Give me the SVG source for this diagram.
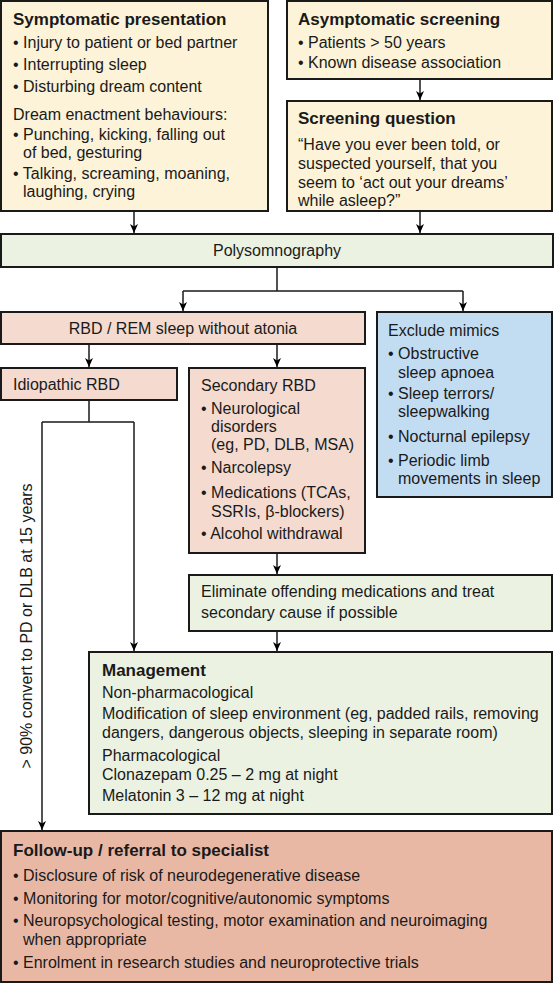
<svg xmlns="http://www.w3.org/2000/svg" width="555" height="984" viewBox="0 0 555 984">
<defs>
<marker id="ah" markerUnits="userSpaceOnUse" markerWidth="10" markerHeight="10" refX="9" refY="5" orient="auto">
<path d="M0,1 L9,5 L0,9 L2.5,5 z" fill="#000"/>
</marker>
<style>
.box{stroke:#1a1a1a;stroke-width:2}
.cream{fill:#fdf3d8}
.green{fill:#ebf2e2}
.pink{fill:#f4dacf}
.blue{fill:#c2dcf2}
.salmon{fill:#e9b8a5}
text{font-family:"Liberation Sans",Arial,sans-serif;font-size:16px;fill:#1a1a1a}
.t{font-weight:bold;font-size:17px}
.c{text-anchor:middle}
.ln{fill:none;stroke:#1a1a1a;stroke-width:1.5}
.ar{marker-end:url(#ah)}
</style>
</defs>
<rect width="555" height="984" fill="#fff"/>

<g id="connectors">
<path class="ln ar" d="M134,211 V233"/>
<path class="ln ar" d="M420,79 V100"/>
<path class="ln ar" d="M420,211 V233"/>
<path class="ln" d="M277,267 V291 M183,291 H463"/>
<path class="ln ar" d="M183,291 V311"/>
<path class="ln ar" d="M463,291 V311"/>
<path class="ln ar" d="M89,344 V367"/>
<path class="ln ar" d="M277,344 V367"/>
<path class="ln" d="M89,400 V422 M42,422 H134"/>
<path class="ln ar" d="M134,422 V651"/>
<path class="ln ar" d="M42,422 V830"/>
<path class="ln ar" d="M277,553 V574"/>
<path class="ln ar" d="M277,631 V651"/>
<text transform="translate(32,626) rotate(-90)" class="c">&gt; 90% convert to PD or DLB at 15 years</text>
</g>

<g id="symptomatic">
<rect class="box cream" x="1" y="1" width="267" height="210"/>
<text class="t" x="13" y="25">Symptomatic presentation</text>
<text x="13" y="48">• Injury to patient or bed partner</text>
<text x="13" y="70">• Interrupting sleep</text>
<text x="13" y="92">• Disturbing dream content</text>
<text x="13" y="120">Dream enactment behaviours:</text>
<text x="13" y="140">• Punching, kicking, falling out</text>
<text x="23" y="158">of bed, gesturing</text>
<text x="13" y="179">• Talking, screaming, moaning,</text>
<text x="23" y="197">laughing, crying</text>
</g>

<g id="asymptomatic">
<rect class="box cream" x="287" y="1" width="265" height="78"/>
<text class="t" x="298" y="25">Asymptomatic screening</text>
<text x="298" y="48">• Patients &gt; 50 years</text>
<text x="298" y="68">• Known disease association</text>
</g>

<g id="screening">
<rect class="box cream" x="287" y="101" width="265" height="110"/>
<text class="t" x="298" y="124">Screening question</text>
<text x="298" y="150">“Have you ever been told, or</text>
<text x="298" y="169">suspected yourself, that you</text>
<text x="298" y="188">seem to ‘act out your dreams’</text>
<text x="298" y="206">while asleep?”</text>
</g>

<g id="polysomnography">
<rect class="box green" x="1" y="234" width="552" height="33"/>
<text class="c" x="277" y="256">Polysomnography</text>
</g>

<g id="rbd">
<rect class="box pink" x="1" y="312" width="364" height="32"/>
<text class="c" x="183" y="334">RBD / REM sleep without atonia</text>
</g>

<g id="mimics">
<rect class="box blue" x="377" y="312" width="175" height="185"/>
<text x="388" y="336">Exclude mimics</text>
<text x="388" y="359">• Obstructive</text>
<text x="398" y="378">sleep apnoea</text>
<text x="388" y="399">• Sleep terrors/</text>
<text x="398" y="417">sleepwalking</text>
<text x="388" y="442">• Nocturnal epilepsy</text>
<text x="388" y="466">• Periodic limb</text>
<text x="398" y="484">movements in sleep</text>
</g>

<g id="idiopathic">
<rect class="box pink" x="1" y="368" width="176" height="32"/>
<text x="13" y="390">Idiopathic RBD</text>
</g>

<g id="secondary">
<rect class="box pink" x="189" y="368" width="176" height="185"/>
<text x="201" y="391">Secondary RBD</text>
<text x="201" y="414">• Neurological</text>
<text x="211" y="432">disorders</text>
<text x="211" y="450">(eg, PD, DLB, MSA)</text>
<text x="201" y="473">• Narcolepsy</text>
<text x="201" y="498">• Medications (TCAs,</text>
<text x="211" y="517">SSRIs, β-blockers)</text>
<text x="201" y="539">• Alcohol withdrawal</text>
</g>

<g id="eliminate">
<rect class="box green" x="189" y="575" width="363" height="56"/>
<text x="201" y="597">Eliminate offending medications and treat</text>
<text x="201" y="618">secondary cause if possible</text>
</g>

<g id="management">
<rect class="box green" x="89" y="652" width="463" height="162"/>
<text class="t" x="102" y="676">Management</text>
<text x="102" y="698">Non-pharmacological</text>
<text x="102" y="719">Modification of sleep environment (eg, padded rails, removing</text>
<text x="102" y="738">dangers, dangerous objects, sleeping in separate room)</text>
<text x="102" y="761">Pharmacological</text>
<text x="102" y="780">Clonazepam 0.25 – 2 mg at night</text>
<text x="102" y="801">Melatonin 3 – 12 mg at night</text>
</g>

<g id="followup">
<rect class="box salmon" x="1" y="831" width="551" height="151"/>
<text class="t" x="13" y="856">Follow-up / referral to specialist</text>
<text x="13" y="881">• Disclosure of risk of neurodegenerative disease</text>
<text x="13" y="904">• Monitoring for motor/cognitive/autonomic symptoms</text>
<text x="13" y="926">• Neuropsychological testing, motor examination and neuroimaging</text>
<text x="23" y="945">when appropriate</text>
<text x="13" y="968">• Enrolment in research studies and neuroprotective trials</text>
</g>
</svg>
